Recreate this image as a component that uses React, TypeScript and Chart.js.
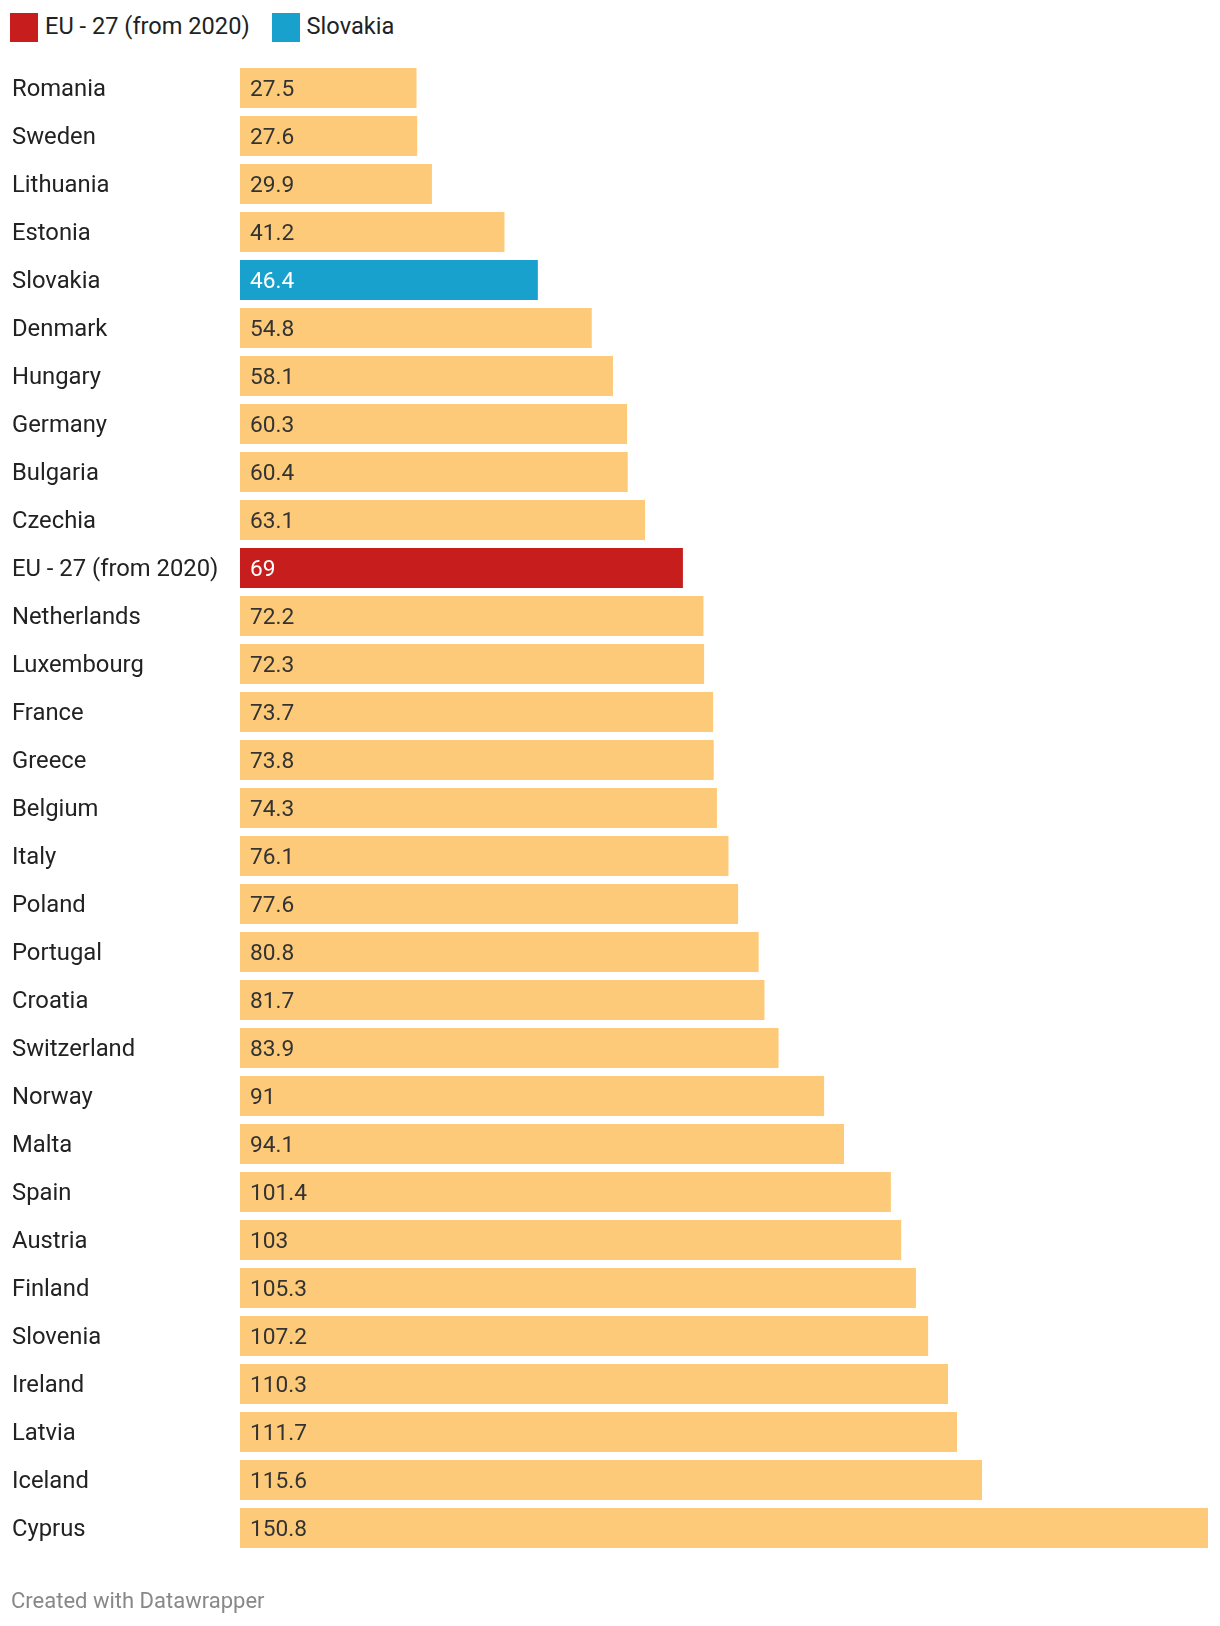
import React, { useEffect, useRef } from "react";
import { Chart, registerables } from "chart.js";

Chart.register(...registerables);

const countries = [
  "Romania", "Sweden", "Lithuania", "Estonia", "Slovakia", "Denmark", "Hungary", "Germany",
  "Bulgaria", "Czechia", "EU - 27 (from 2020)", "Netherlands", "Luxembourg", "France", "Greece",
  "Belgium", "Italy", "Poland", "Portugal", "Croatia", "Switzerland", "Norway", "Malta", "Spain",
  "Austria", "Finland", "Slovenia", "Ireland", "Latvia", "Iceland", "Cyprus",
];

const values = [
  27.5, 27.6, 29.9, 41.2, 46.4, 54.8, 58.1, 60.3, 60.4, 63.1, 69, 72.2, 72.3, 73.7, 73.8,
  74.3, 76.1, 77.6, 80.8, 81.7, 83.9, 91, 94.1, 101.4, 103, 105.3, 107.2, 110.3, 111.7, 115.6, 150.8,
];

const legendItems = ["EU - 27 (from 2020)", "Slovakia"];

const COLOR_DEFAULT = "#fdca79";
const COLOR_EU = "#c71e1d";
const COLOR_SK = "#18a1cd";
const FONT = "Roboto, 'Noto Sans', sans-serif";

function barColor(name: string) {
  if (name === legendItems[0]) return COLOR_EU;
  if (name === legendItems[1]) return COLOR_SK;
  return COLOR_DEFAULT;
}

const valueLabelPlugin = {
  id: "valueLabels",
  afterDatasetsDraw(chart: any) {
    const ctx = chart.ctx;
    const meta = chart.getDatasetMeta(0);
    ctx.save();
    ctx.font = `22.7px ${FONT}`;
    ctx.textBaseline = "alphabetic";
    ctx.textAlign = "left";
    meta.data.forEach((bar: any, i: number) => {
      const name = countries[i];
      ctx.fillStyle = barColor(name) === COLOR_DEFAULT ? "#333333" : "#ffffff";
      ctx.fillText(String(values[i]), bar.base + 10, bar.y + 7.7);
    });
    ctx.restore();
  },
};

export default function App() {
  const canvasRef = useRef<HTMLCanvasElement | null>(null);

  useEffect(() => {
    if (!canvasRef.current) return;
    const chart = new Chart(canvasRef.current, {
      type: "bar",
      data: {
        labels: countries,
        datasets: [
          {
            data: values,
            backgroundColor: countries.map(barColor),
            barPercentage: 1,
            categoryPercentage: 40 / 48,
            borderWidth: 0,
          },
        ],
      },
      options: {
        indexAxis: "y",
        animation: false,
        responsive: false,
        maintainAspectRatio: false,
        layout: { padding: { left: 12, right: 12, top: 64, bottom: 74 } },
        plugins: { legend: { display: false }, tooltip: { enabled: false } },
        scales: {
          x: { display: false, min: 0, max: 150.8 },
          y: {
            grid: { display: false },
            border: { display: false },
            afterFit(scale: any) {
              scale.width = 228;
            },
            ticks: {
              crossAlign: "far",
              padding: 0,
              labelOffset: 2,
              color: "#222222",
              font: { family: FONT, size: 23.8 },
              autoSkip: false,
            },
          },
        },
      },
      plugins: [valueLabelPlugin],
    });
    return () => chart.destroy();
  }, []);

  const legendColors = [COLOR_EU, COLOR_SK];

  return (
    <div style={{ position: "absolute", left: 0, top: 0, width: 1220, height: 1626, background: "#fff", fontFamily: FONT }}>
      <div style={{ position: "absolute", left: 10, top: 13, display: "flex", alignItems: "center", height: 29 }}>
        {legendItems.map((name, i) => (
          <div key={name} style={{ display: "flex", alignItems: "center", marginRight: 22 }}>
            <div style={{ width: 28, height: 29, background: legendColors[i], marginRight: 7 }} />
            <span style={{ fontSize: 23.6, lineHeight: "24px", color: "#222", position: "relative", top: -2 }}>{name}</span>
          </div>
        ))}
      </div>
      <canvas ref={canvasRef} width={1220} height={1626} style={{ position: "absolute", left: 0, top: 0 }} />
      <div style={{ position: "absolute", left: 11, top: 1590, fontSize: 22, lineHeight: "22px", color: "#888" }}>
        Created with Datawrapper
      </div>
    </div>
  );
}
